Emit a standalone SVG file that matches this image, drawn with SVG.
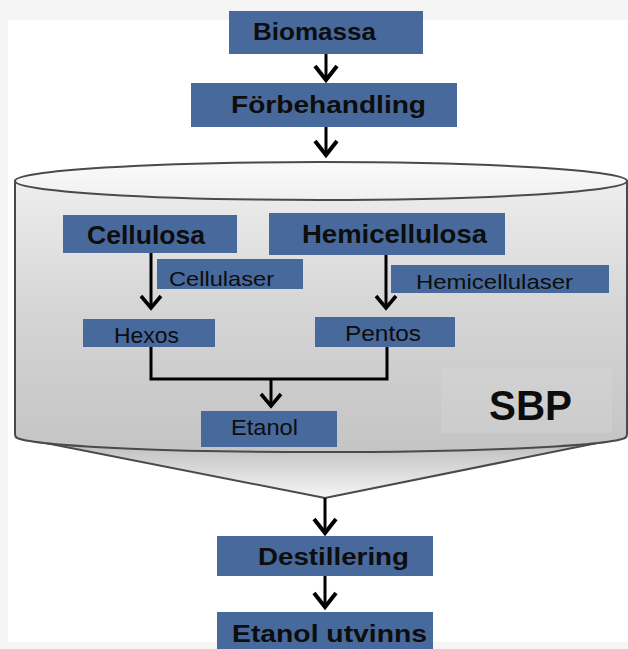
<svg xmlns="http://www.w3.org/2000/svg" width="628" height="649" viewBox="0 0 628 649">
<defs>
<linearGradient id="bodyG" x1="0" y1="0" x2="0" y2="1">
<stop offset="0" stop-color="#eeeeee"/>
<stop offset="0.45" stop-color="#d6d6d6"/>
<stop offset="1" stop-color="#c4c4c4"/>
</linearGradient>
<linearGradient id="topG" x1="0" y1="0" x2="0" y2="1">
<stop offset="0" stop-color="#fafafa"/>
<stop offset="1" stop-color="#f0f0f0"/>
</linearGradient>
<linearGradient id="coneG" x1="0" y1="0" x2="0" y2="1">
<stop offset="0" stop-color="#b8b8b8"/>
<stop offset="1" stop-color="#f6f6f6"/>
</linearGradient>
<marker id="ah" markerUnits="userSpaceOnUse" viewBox="-17 -15 21 30" markerWidth="21" markerHeight="30" refX="0" refY="0" orient="auto">
<path d="M-14,-11 L0,0 L-14,11" fill="none" stroke="#000" stroke-width="4"/>
</marker>
<marker id="ahs" markerUnits="userSpaceOnUse" viewBox="-15 -13 19 26" markerWidth="19" markerHeight="26" refX="0" refY="0" orient="auto">
<path d="M-12,-10 L0,0 L-12,10" fill="none" stroke="#000" stroke-width="3.6"/>
</marker>
</defs>
<style>
.box{fill:#48699b;}
.tb{font-family:"Liberation Sans",Arial,sans-serif;font-weight:bold;fill:#0d0d0d;}
.tn{font-family:"Liberation Sans",Arial,sans-serif;fill:#0d0d0d;}
.c{fill:none;stroke:#000;stroke-width:3;}
.out{stroke:#4a4a4a;stroke-width:2;}
</style>
<rect x="0" y="0" width="628" height="649" fill="#f5f5f5"/>
<rect x="8" y="20" width="620" height="622" fill="#ffffff"/>

<g id="vessel">
<path class="out" d="M15,437 L325,498 L627,437 Z" fill="url(#coneG)"/>
<path class="out" d="M15,181 L15,434 Q15,438 20,439 A306,16 0 0 0 622,439 Q627,438 627,434 L627,181 Z" fill="url(#bodyG)"/>
<ellipse class="out" cx="321" cy="181" rx="306" ry="19" fill="url(#topG)"/>
<rect x="441" y="368" width="171" height="65" fill="#dadada" opacity="0.3"/>
</g>

<g id="connectors">
<line class="c" x1="326" y1="54" x2="326" y2="80" marker-end="url(#ah)"/>
<line class="c" x1="326" y1="127" x2="326" y2="155" marker-end="url(#ah)"/>
<line class="c" x1="151" y1="253" x2="151" y2="308" marker-end="url(#ahs)"/>
<line class="c" x1="386" y1="255" x2="386" y2="308" marker-end="url(#ahs)"/>
<polyline class="c" points="151,347 151,379 387,379 387,347"/>
<line class="c" x1="271" y1="379" x2="271" y2="406" marker-end="url(#ahs)"/>
<line class="c" x1="325" y1="498" x2="325" y2="533" marker-end="url(#ah)"/>
<line class="c" x1="325" y1="576" x2="325" y2="607" marker-end="url(#ah)"/>
</g>

<g id="biomassa">
<rect class="box" x="229" y="11" width="194" height="43"/>
<text class="tb" x="253" y="40" font-size="23" textLength="123" lengthAdjust="spacingAndGlyphs">Biomassa</text>
</g>
<g id="forbehandling">
<rect class="box" x="191" y="83" width="266" height="44"/>
<text class="tb" x="231" y="113" font-size="23" textLength="195" lengthAdjust="spacingAndGlyphs">Förbehandling</text>
</g>
<g id="cellulosa">
<rect class="box" x="63" y="215" width="174" height="38"/>
<text class="tb" x="87" y="244" font-size="26" textLength="118" lengthAdjust="spacingAndGlyphs">Cellulosa</text>
</g>
<g id="hemicellulosa">
<rect class="box" x="269" y="213" width="236" height="42"/>
<text class="tb" x="302" y="243" font-size="26" textLength="185" lengthAdjust="spacingAndGlyphs">Hemicellulosa</text>
</g>
<g id="cellulaser">
<rect class="box" x="157" y="259" width="146" height="30"/>
<text class="tn" x="169" y="286" font-size="21" textLength="105" lengthAdjust="spacingAndGlyphs">Cellulaser</text>
</g>
<g id="hemicellulaser">
<rect class="box" x="391" y="265" width="218" height="28"/>
<text class="tn" x="416" y="289" font-size="21" textLength="157" lengthAdjust="spacingAndGlyphs">Hemicellulaser</text>
</g>
<g id="hexos">
<rect class="box" x="83" y="319" width="132" height="28"/>
<text class="tn" x="114" y="343" font-size="22" textLength="65" lengthAdjust="spacingAndGlyphs">Hexos</text>
</g>
<g id="pentos">
<rect class="box" x="315" y="317" width="140" height="30"/>
<text class="tn" x="345" y="341" font-size="22" textLength="76" lengthAdjust="spacingAndGlyphs">Pentos</text>
</g>
<g id="etanol">
<rect class="box" x="201" y="411" width="136" height="36"/>
<text class="tn" x="231" y="435" font-size="22" textLength="67" lengthAdjust="spacingAndGlyphs">Etanol</text>
</g>
<g id="sbp">
<text class="tb" x="489" y="420" font-size="42" textLength="83" lengthAdjust="spacingAndGlyphs">SBP</text>
</g>
<g id="destillering">
<rect class="box" x="217" y="536" width="216" height="40"/>
<text class="tb" x="258" y="565" font-size="23" textLength="151" lengthAdjust="spacingAndGlyphs">Destillering</text>
</g>
<g id="etanol-utvinns">
<rect class="box" x="217" y="612" width="216" height="37"/>
<text class="tb" x="232" y="642" font-size="24" textLength="195" lengthAdjust="spacingAndGlyphs">Etanol utvinns</text>
</g>
</svg>
